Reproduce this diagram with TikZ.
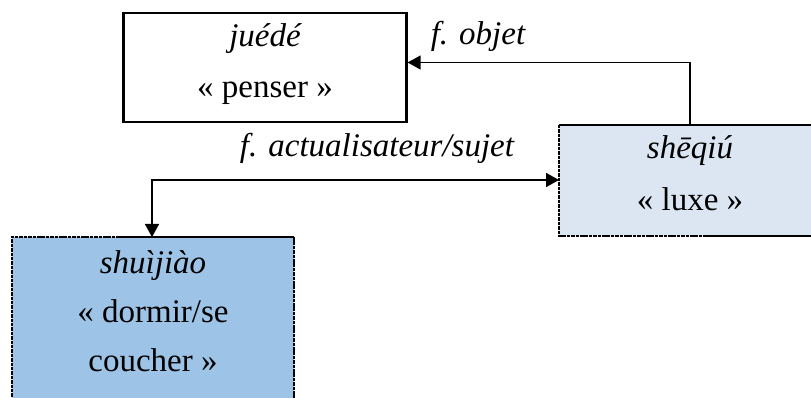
\documentclass[tikz,border=0pt]{standalone}
\usepackage{fontspec}
\setmainfont{Liberation Serif}
\usetikzlibrary{arrows.meta}
\definecolor{lightblue}{RGB}{220,230,242}
\definecolor{midblue}{RGB}{157,195,230}
\begin{document}
\begin{tikzpicture}[x=1pt,y=-1pt,
  txt/.style={font=\fontsize{33}{33}\selectfont, inner sep=0pt, anchor=base},
  lbl/.style={font=\fontsize{33}{33}\selectfont\itshape, inner sep=0pt, anchor=base},
  solidedge/.style={line width=2.8pt},
  dashedge/.style={line width=2.8pt, dash pattern=on 3.5pt off 0.9pt},
  conn2/.style={line width=1.8pt, {Triangle[length=13pt,width=14pt]}-{Triangle[length=13pt,width=14pt]}},
  thinconn/.style={line width=1.3pt, -{Triangle[length=13pt,width=14pt]}}]
\useasboundingbox (0,0) rectangle (811,398);
% juede box
\node[draw, line width=2.2pt, minimum width=283pt, minimum height=109pt, inner sep=0pt] (juede) at (265,67.5) {};
\node[lbl] (t1) at (265,47) {juédé};
\node[txt] (t2) at (265,98) {« penser »};
% sheqiu box
\fill[lightblue] (559,125) rectangle (822,236);
\coordinate (sqnw) at (559,125);
\coordinate (sqne) at (822,125);
\coordinate (sqsw) at (559,236);
\coordinate (sqsm) at (703,236);
\coordinate (sqse) at (822,236);
\draw[solidedge] (sqnw) -- (sqne);
\draw[dashedge] (sqnw) -- (sqsw) -- (sqsm);
\draw[solidedge] (sqsm) -- (sqse);
\node[lbl] (t3) at (690,159) {shēqiú};
\node[txt] (t4) at (690,211) {« luxe »};
\coordinate (sqtop) at (690,125);
\coordinate (sqleft) at (559,180);
% shuijiao box
\fill[midblue] (12,237) rectangle (294,410);
\coordinate (sjnw) at (12,237);
\coordinate (sjnm) at (120,237);
\coordinate (sjne) at (294,237);
\coordinate (sjsw) at (12,410);
\coordinate (sjse) at (294,410);
\draw[dashedge] (sjsw) -- (sjnw) -- (sjnm);
\draw[solidedge] (sjnm) -- (sjne);
\draw[dashedge] (sjne) -- (sjse);
\node[lbl] (t5) at (153,273) {shuìjiào};
\node[txt] (t6) at (153,322) {« dormir/se};
\node[txt] (t7) at (153,371) {coucher »};
\coordinate (sjtop) at (152,237);
% connectors
\draw[thinconn] (sqtop) |- (juede.east |- 0,62.5);
\draw[conn2] (sjtop) |- (sqleft);
% labels
\node[lbl] (l1) at (478,45) {f. objet};
\node[lbl] (l2) at (377,157) {f. actualisateur/sujet};
\end{tikzpicture}
\end{document}
